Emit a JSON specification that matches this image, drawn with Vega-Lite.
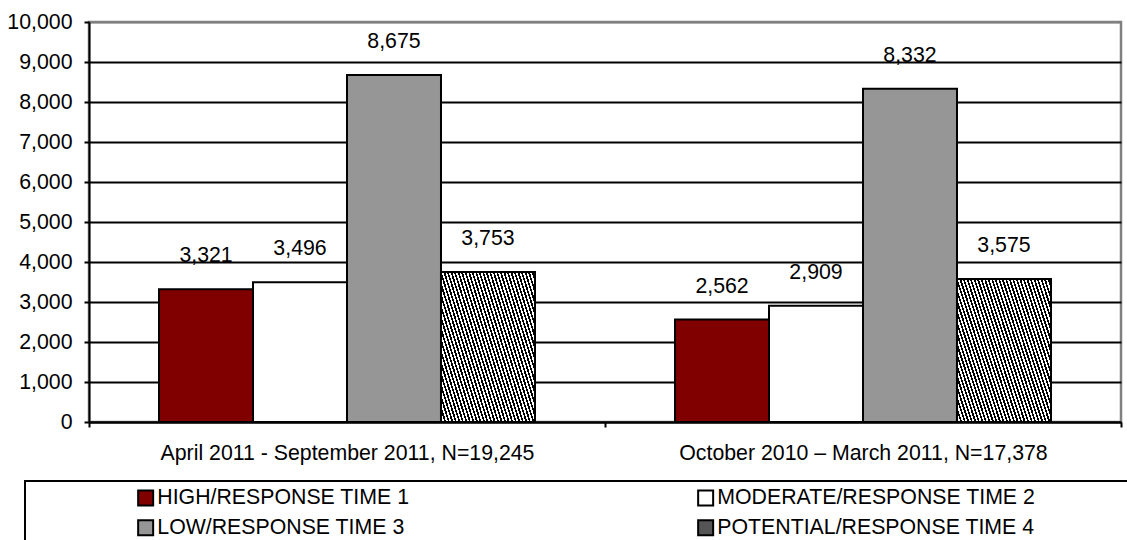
{
  "$schema": "https://vega.github.io/schema/vega-lite/v6.json",
  "width": 1032,
  "height": 400,
  "autosize": {"type": "none"},
  "padding": {"left": 89, "top": 22, "right": 6, "bottom": 118},
  "background": "white",
  "data": {"values": [
    {"period": "April 2011 - September 2011, N=19,245", "level": "HIGH/RESPONSE TIME 1", "count": 3321},
    {"period": "April 2011 - September 2011, N=19,245", "level": "MODERATE/RESPONSE TIME 2", "count": 3496},
    {"period": "April 2011 - September 2011, N=19,245", "level": "LOW/RESPONSE TIME 3", "count": 8675},
    {"period": "April 2011 - September 2011, N=19,245", "level": "POTENTIAL/RESPONSE TIME 4", "count": 3753},
    {"period": "October 2010 – March 2011, N=17,378", "level": "HIGH/RESPONSE TIME 1", "count": 2562},
    {"period": "October 2010 – March 2011, N=17,378", "level": "MODERATE/RESPONSE TIME 2", "count": 2909},
    {"period": "October 2010 – March 2011, N=17,378", "level": "LOW/RESPONSE TIME 3", "count": 8332},
    {"period": "October 2010 – March 2011, N=17,378", "level": "POTENTIAL/RESPONSE TIME 4", "count": 3575}
  ]},
  "encoding": {
    "x": {
      "field": "period", "type": "nominal",
      "sort": ["April 2011 - September 2011, N=19,245", "October 2010 – March 2011, N=17,378"],
      "scale": {"paddingInner": 0, "paddingOuter": 0},
      "axis": {"title": null, "labelAngle": 0, "labelFontSize": 21.3, "labelColor": "black", "labelPadding": 15, "labelLimit": 1000,
               "domainColor": "black", "domainWidth": 2, "tickColor": "black", "tickWidth": 2, "tickSize": 5, "tickBand": "extent", "grid": false}
    },
    "xOffset": {
      "field": "level", "type": "nominal",
      "sort": ["HIGH/RESPONSE TIME 1", "MODERATE/RESPONSE TIME 2", "LOW/RESPONSE TIME 3", "POTENTIAL/RESPONSE TIME 4"],
      "scale": {"paddingInner": 0, "paddingOuter": 0.745}
    },
    "y": {
      "field": "count", "type": "quantitative",
      "scale": {"domain": [0, 10000], "nice": false},
      "axis": {"title": null, "values": [0, 1000, 2000, 3000, 4000, 5000, 6000, 7000, 8000, 9000, 10000], "format": ",.0f",
               "labelFontSize": 21.3, "labelColor": "black", "labelPadding": 12,
               "domainColor": "black", "domainWidth": 2, "tickColor": "black", "tickWidth": 2, "tickSize": 5,
               "gridColor": {"condition": {"test": "datum.value === 10000", "value": "#808080"}, "value": "black"}, "gridWidth": 2}
    }
  },
  "layer": [
    {
      "mark": {"type": "bar", "stroke": "black", "strokeWidth": 2},
      "encoding": {
        "fill": {
          "field": "level", "type": "nominal",
          "scale": {
            "domain": ["HIGH/RESPONSE TIME 1", "LOW/RESPONSE TIME 3", "MODERATE/RESPONSE TIME 2", "POTENTIAL/RESPONSE TIME 4"],
            "range": ["#800000", "#969696", "#ffffff", "#555555"]
          },
          "legend": {
            "title": "\u00a0", "titleOrient": "left", "titleFontSize": 2, "titlePadding": 104,
            "orient": "none", "legendX": -64, "legendY": 459,
            "columns": 2, "columnPadding": 284, "rowPadding": 6, "padding": 6,
            "strokeColor": "black", "fillColor": "white",
            "symbolType": "square", "symbolSize": 225, "symbolStrokeColor": "black", "symbolStrokeWidth": 2,
            "labelFontSize": 21.3, "labelColor": "black", "labelOffset": 1, "labelLimit": 1000,
            "labelExpr": "(datum.label === 'MODERATE/RESPONSE TIME 2' || datum.label === 'POTENTIAL/RESPONSE TIME 4') ? datum.label + '\u2800\u2800\u2800\u2800\u2800\u2800' : datum.label",
            "encode": {"legend": {"update": {"strokeWidth": {"value": 2}}}}
          }
        }
      }
    },
    {
      "transform": [{"filter": "datum.level === 'POTENTIAL/RESPONSE TIME 4'"}],
      "mark": {"type": "bar", "stroke": "black", "strokeWidth": 2,
        "fill": {"gradient": "linear", "x1": 0, "y1": 1, "x2": 1.2, "y2": 0.4, "stops": [
                {"offset": 0, "color": "#000"},
                {"offset": 0.0125, "color": "#000"}, {"offset": 0.0125, "color": "#fff"},
                {"offset": 0.025, "color": "#fff"}, {"offset": 0.025, "color": "#000"},
                {"offset": 0.0375, "color": "#000"}, {"offset": 0.0375, "color": "#fff"},
                {"offset": 0.05, "color": "#fff"}, {"offset": 0.05, "color": "#000"},
                {"offset": 0.0625, "color": "#000"}, {"offset": 0.0625, "color": "#fff"},
                {"offset": 0.075, "color": "#fff"}, {"offset": 0.075, "color": "#000"},
                {"offset": 0.0875, "color": "#000"}, {"offset": 0.0875, "color": "#fff"},
                {"offset": 0.1, "color": "#fff"}, {"offset": 0.1, "color": "#000"},
                {"offset": 0.1125, "color": "#000"}, {"offset": 0.1125, "color": "#fff"},
                {"offset": 0.125, "color": "#fff"}, {"offset": 0.125, "color": "#000"},
                {"offset": 0.1375, "color": "#000"}, {"offset": 0.1375, "color": "#fff"},
                {"offset": 0.15, "color": "#fff"}, {"offset": 0.15, "color": "#000"},
                {"offset": 0.1625, "color": "#000"}, {"offset": 0.1625, "color": "#fff"},
                {"offset": 0.175, "color": "#fff"}, {"offset": 0.175, "color": "#000"},
                {"offset": 0.1875, "color": "#000"}, {"offset": 0.1875, "color": "#fff"},
                {"offset": 0.2, "color": "#fff"}, {"offset": 0.2, "color": "#000"},
                {"offset": 0.2125, "color": "#000"}, {"offset": 0.2125, "color": "#fff"},
                {"offset": 0.225, "color": "#fff"}, {"offset": 0.225, "color": "#000"},
                {"offset": 0.2375, "color": "#000"}, {"offset": 0.2375, "color": "#fff"},
                {"offset": 0.25, "color": "#fff"}, {"offset": 0.25, "color": "#000"},
                {"offset": 0.2625, "color": "#000"}, {"offset": 0.2625, "color": "#fff"},
                {"offset": 0.275, "color": "#fff"}, {"offset": 0.275, "color": "#000"},
                {"offset": 0.2875, "color": "#000"}, {"offset": 0.2875, "color": "#fff"},
                {"offset": 0.3, "color": "#fff"}, {"offset": 0.3, "color": "#000"},
                {"offset": 0.3125, "color": "#000"}, {"offset": 0.3125, "color": "#fff"},
                {"offset": 0.325, "color": "#fff"}, {"offset": 0.325, "color": "#000"},
                {"offset": 0.3375, "color": "#000"}, {"offset": 0.3375, "color": "#fff"},
                {"offset": 0.35, "color": "#fff"}, {"offset": 0.35, "color": "#000"},
                {"offset": 0.3625, "color": "#000"}, {"offset": 0.3625, "color": "#fff"},
                {"offset": 0.375, "color": "#fff"}, {"offset": 0.375, "color": "#000"},
                {"offset": 0.3875, "color": "#000"}, {"offset": 0.3875, "color": "#fff"},
                {"offset": 0.4, "color": "#fff"}, {"offset": 0.4, "color": "#000"},
                {"offset": 0.4125, "color": "#000"}, {"offset": 0.4125, "color": "#fff"},
                {"offset": 0.425, "color": "#fff"}, {"offset": 0.425, "color": "#000"},
                {"offset": 0.4375, "color": "#000"}, {"offset": 0.4375, "color": "#fff"},
                {"offset": 0.45, "color": "#fff"}, {"offset": 0.45, "color": "#000"},
                {"offset": 0.4625, "color": "#000"}, {"offset": 0.4625, "color": "#fff"},
                {"offset": 0.475, "color": "#fff"}, {"offset": 0.475, "color": "#000"},
                {"offset": 0.4875, "color": "#000"}, {"offset": 0.4875, "color": "#fff"},
                {"offset": 0.5, "color": "#fff"}, {"offset": 0.5, "color": "#000"},
                {"offset": 0.5125, "color": "#000"}, {"offset": 0.5125, "color": "#fff"},
                {"offset": 0.525, "color": "#fff"}, {"offset": 0.525, "color": "#000"},
                {"offset": 0.5375, "color": "#000"}, {"offset": 0.5375, "color": "#fff"},
                {"offset": 0.55, "color": "#fff"}, {"offset": 0.55, "color": "#000"},
                {"offset": 0.5625, "color": "#000"}, {"offset": 0.5625, "color": "#fff"},
                {"offset": 0.575, "color": "#fff"}, {"offset": 0.575, "color": "#000"},
                {"offset": 0.5875, "color": "#000"}, {"offset": 0.5875, "color": "#fff"},
                {"offset": 0.6, "color": "#fff"}, {"offset": 0.6, "color": "#000"},
                {"offset": 0.6125, "color": "#000"}, {"offset": 0.6125, "color": "#fff"},
                {"offset": 0.625, "color": "#fff"}, {"offset": 0.625, "color": "#000"},
                {"offset": 0.6375, "color": "#000"}, {"offset": 0.6375, "color": "#fff"},
                {"offset": 0.65, "color": "#fff"}, {"offset": 0.65, "color": "#000"},
                {"offset": 0.6625, "color": "#000"}, {"offset": 0.6625, "color": "#fff"},
                {"offset": 0.675, "color": "#fff"}, {"offset": 0.675, "color": "#000"},
                {"offset": 0.6875, "color": "#000"}, {"offset": 0.6875, "color": "#fff"},
                {"offset": 0.7, "color": "#fff"}, {"offset": 0.7, "color": "#000"},
                {"offset": 0.7125, "color": "#000"}, {"offset": 0.7125, "color": "#fff"},
                {"offset": 0.725, "color": "#fff"}, {"offset": 0.725, "color": "#000"},
                {"offset": 0.7375, "color": "#000"}, {"offset": 0.7375, "color": "#fff"},
                {"offset": 0.75, "color": "#fff"}, {"offset": 0.75, "color": "#000"},
                {"offset": 0.7625, "color": "#000"}, {"offset": 0.7625, "color": "#fff"},
                {"offset": 0.775, "color": "#fff"}, {"offset": 0.775, "color": "#000"},
                {"offset": 0.7875, "color": "#000"}, {"offset": 0.7875, "color": "#fff"},
                {"offset": 0.8, "color": "#fff"}, {"offset": 0.8, "color": "#000"},
                {"offset": 0.8125, "color": "#000"}, {"offset": 0.8125, "color": "#fff"},
                {"offset": 0.825, "color": "#fff"}, {"offset": 0.825, "color": "#000"},
                {"offset": 0.8375, "color": "#000"}, {"offset": 0.8375, "color": "#fff"},
                {"offset": 0.85, "color": "#fff"}, {"offset": 0.85, "color": "#000"},
                {"offset": 0.8625, "color": "#000"}, {"offset": 0.8625, "color": "#fff"},
                {"offset": 0.875, "color": "#fff"}, {"offset": 0.875, "color": "#000"},
                {"offset": 0.8875, "color": "#000"}, {"offset": 0.8875, "color": "#fff"},
                {"offset": 0.9, "color": "#fff"}, {"offset": 0.9, "color": "#000"},
                {"offset": 0.9125, "color": "#000"}, {"offset": 0.9125, "color": "#fff"},
                {"offset": 0.925, "color": "#fff"}, {"offset": 0.925, "color": "#000"},
                {"offset": 0.9375, "color": "#000"}, {"offset": 0.9375, "color": "#fff"},
                {"offset": 0.95, "color": "#fff"}, {"offset": 0.95, "color": "#000"},
                {"offset": 0.9625, "color": "#000"}, {"offset": 0.9625, "color": "#fff"},
                {"offset": 0.975, "color": "#fff"}, {"offset": 0.975, "color": "#000"},
                {"offset": 0.9875, "color": "#000"}, {"offset": 0.9875, "color": "#fff"},
                {"offset": 1, "color": "#fff"}
              ]}
      },
      "encoding": {}
    },
    {
      "mark": {"type": "text", "baseline": "alphabetic", "dy": -27, "fontSize": 21.3, "color": "black"},
      "encoding": {"text": {"field": "count", "type": "quantitative", "format": ",.0f"}}
    }
  ],
  "config": {
    "font": "Liberation Sans",
    "view": {"stroke": "#808080", "strokeWidth": 2.5}
  }
}
